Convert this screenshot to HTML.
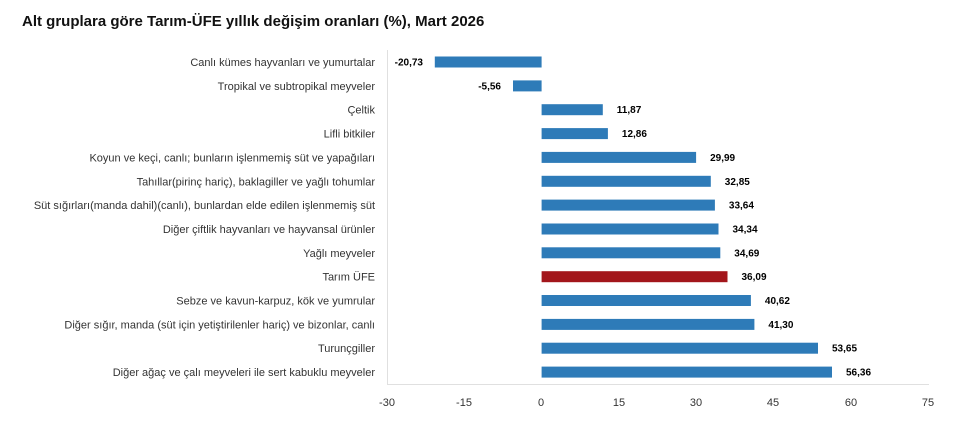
<!DOCTYPE html>
<html><head><meta charset="utf-8"><style>
body{margin:0;background:#fff;width:956px;height:441px;overflow:hidden}
svg{display:block}
.l{font-family:"Liberation Sans","DejaVu Sans",sans-serif;font-size:11px;fill:#333;text-anchor:end}
.v{font-family:"Liberation Sans",sans-serif;font-size:10px;font-weight:bold;fill:#000}
.t{font-family:"Liberation Sans",sans-serif;font-size:11px;fill:#333;text-anchor:middle}
.b{fill:#2e7bb8}
</style></head><body>
<svg width="956" height="441" xmlns="http://www.w3.org/2000/svg">
<text x="22" y="26" font-family="Liberation Sans,sans-serif" font-size="15" font-weight="bold" fill="#111">Alt gruplara göre Tarım-ÜFE yıllık değişim oranları (%), Mart 2026</text>
<line x1="387.5" y1="50" x2="387.5" y2="384" stroke="#e0e0e0"/>
<line x1="387" y1="384.5" x2="929" y2="384.5" stroke="#e0e0e0"/>

<text class="l" x="375" y="66">Canlı kümes hayvanları ve yumurtalar</text>
<rect class="b" x="434.8" y="56.5" width="106.8" height="11"/>
<text class="v" text-anchor="end" x="423" y="65.5">-20,73</text>

<text class="l" x="375" y="89.9">Tropikal ve subtropikal meyveler</text>
<rect class="b" x="513" y="80.4" width="28.6" height="11"/>
<text class="v" text-anchor="end" x="501" y="89.4">-5,56</text>

<text class="l" x="375" y="113.7">Çeltik</text>
<rect class="b" x="541.6" y="104.2" width="61.2" height="11"/>
<text class="v" x="616.8" y="113.2">11,87</text>

<text class="l" x="375" y="137.6">Lifli bitkiler</text>
<rect class="b" x="541.6" y="128.1" width="66.3" height="11"/>
<text class="v" x="621.9" y="137.1">12,86</text>

<text class="l" x="375" y="161.4">Koyun ve keçi, canlı; bunların işlenmemiş süt ve yapağıları</text>
<rect class="b" x="541.6" y="151.9" width="154.5" height="11"/>
<text class="v" x="710.1" y="160.9">29,99</text>

<text class="l" x="375" y="185.3">Tahıllar(pirinç hariç), baklagiller ve yağlı tohumlar</text>
<rect class="b" x="541.6" y="175.8" width="169.2" height="11"/>
<text class="v" x="724.8" y="184.8">32,85</text>

<text class="l" x="375" y="209.1">Süt sığırları(manda dahil)(canlı), bunlardan elde edilen işlenmemiş süt</text>
<rect class="b" x="541.6" y="199.6" width="173.3" height="11"/>
<text class="v" x="728.9" y="208.6">33,64</text>

<text class="l" x="375" y="233">Diğer çiftlik hayvanları ve hayvansal ürünler</text>
<rect class="b" x="541.6" y="223.5" width="176.9" height="11"/>
<text class="v" x="732.5" y="232.5">34,34</text>

<text class="l" x="375" y="256.8">Yağlı meyveler</text>
<rect class="b" x="541.6" y="247.3" width="178.7" height="11"/>
<text class="v" x="734.3" y="256.3">34,69</text>

<text class="l" x="375" y="280.7">Tarım ÜFE</text>
<rect fill="#a3161b" x="541.6" y="271.2" width="185.9" height="11"/>
<text class="v" x="741.5" y="280.2">36,09</text>

<text class="l" x="375" y="304.5">Sebze ve kavun-karpuz, kök ve yumrular</text>
<rect class="b" x="541.6" y="295" width="209.3" height="11"/>
<text class="v" x="764.9" y="304">40,62</text>

<text class="l" x="375" y="328.4">Diğer sığır, manda (süt için yetiştirilenler hariç) ve bizonlar, canlı</text>
<rect class="b" x="541.6" y="318.9" width="212.8" height="11"/>
<text class="v" x="768.4" y="327.9">41,30</text>

<text class="l" x="375" y="352.2">Turunçgiller</text>
<rect class="b" x="541.6" y="342.7" width="276.4" height="11"/>
<text class="v" x="832" y="351.7">53,65</text>

<text class="l" x="375" y="376.1">Diğer ağaç ve çalı meyveleri ile sert kabuklu meyveler</text>
<rect class="b" x="541.6" y="366.6" width="290.4" height="11"/>
<text class="v" x="846" y="375.6">56,36</text>

<text class="t" x="387" y="406">-30</text><text class="t" x="464" y="406">-15</text><text class="t" x="541" y="406">0</text><text class="t" x="619" y="406">15</text><text class="t" x="696" y="406">30</text><text class="t" x="773" y="406">45</text><text class="t" x="851" y="406">60</text><text class="t" x="928" y="406">75</text>
</svg>
</body></html>
